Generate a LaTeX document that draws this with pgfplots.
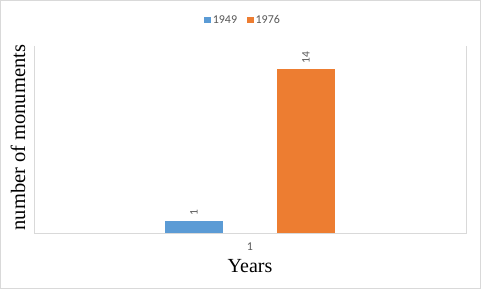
\documentclass[border=0pt]{standalone}
\usepackage{pgfplots}
\pgfplotsset{compat=1.18}
\usepackage{fontspec}
\setmainfont{Liberation Serif}
\newfontfamily\calibri{Carlito}
\definecolor{xlblue}{HTML}{5B9BD5}
\definecolor{xlorange}{HTML}{ED7D31}
\definecolor{xlgray}{HTML}{D9D9D9}
\definecolor{xltext}{HTML}{595959}
\pgfplotsset{ybar legend/.style={legend image code/.code={\fill[##1] (0pt,-3pt) rectangle (6.5pt,3.5pt);}}}
\begin{document}
\begin{tikzpicture}
\useasboundingbox (0,0) rectangle (481pt,289pt);
\draw[xlgray, line width=1pt] (0.5pt,0.5pt) rectangle (480.5pt,288.5pt);
\begin{axis}[
  at={(34pt,56pt)}, anchor=south west,
  scale only axis, width=432pt, height=187pt,
  /pgf/number format/assume math mode=true,
  ybar=54pt, bar width=58pt,
  xmin=0.5, xmax=1.5, ymin=0, ymax=16,
  xtick={1}, xticklabels={1},
  ytick=\empty,
  major tick length=0pt,
  axis line style={draw=none},
  clip=false,
  xticklabel style={font=\calibri\fontsize{12}{14}\selectfont, text=xltext, anchor=center, yshift=-14pt},
  xlabel={Years}, ylabel={number of monuments},
  xlabel style={font=\fontsize{20}{24}\selectfont, at={(axis description cs:0.5,-0.176)}, anchor=center},
  ylabel style={font=\fontsize{20.5}{24}\selectfont, at={(axis description cs:-0.037,0.51)}, anchor=center},
  nodes near coords,
  nodes near coords style={rotate=90, anchor=west, inner xsep=6pt, inner ysep=0pt, font=\calibri\fontsize{11.5}{13}\selectfont, text=xltext},
  legend style={at={(axis description cs:0.484,1.139)}, anchor=center, draw=none, legend columns=2, font=\calibri\fontsize{12}{14}\selectfont, text=xltext, /tikz/every even column/.append style={column sep=8pt}},
]
\addplot[fill=xlblue, draw=none] coordinates {(1,1)};
\addplot[fill=xlorange, draw=none] coordinates {(1,14)};
\legend{1949,1976}
\draw[xlgray, line width=1pt] (rel axis cs:0,1) -- (rel axis cs:0,0) -- (rel axis cs:1,0) -- (rel axis cs:1,1);
\end{axis}
\end{tikzpicture}
\end{document}
